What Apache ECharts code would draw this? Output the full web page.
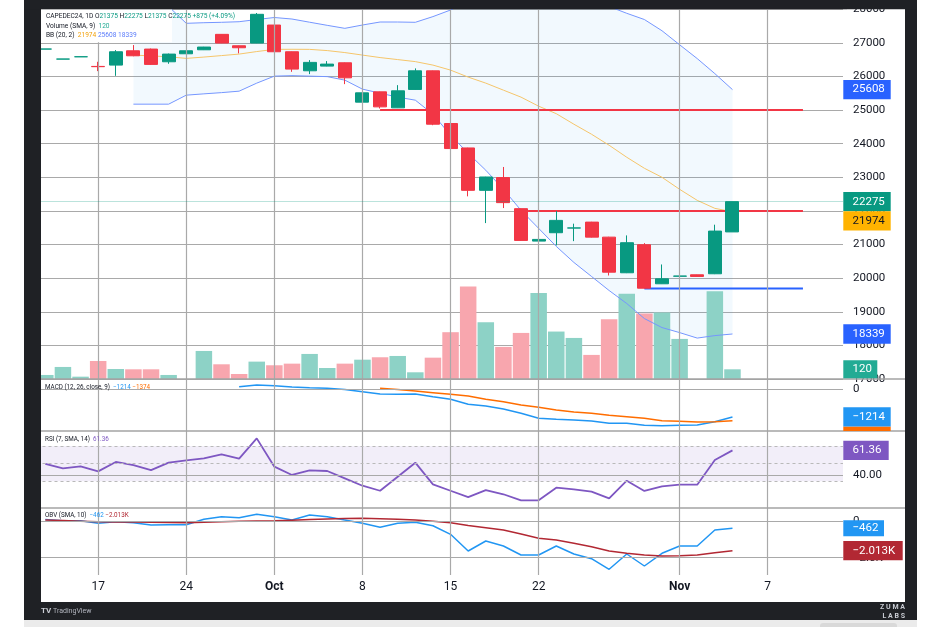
<!DOCTYPE html>
<html>
<head>
<meta charset="utf-8">
<script src="https://cdn.jsdelivr.net/npm/echarts@6/dist/echarts.min.js"></script>
<style>
html,body{margin:0;padding:0;background:#fff;}
#frame{position:absolute;left:24px;top:0;width:893px;height:620px;background:#1f2125;}
#strip{position:absolute;left:24px;top:620px;width:893px;height:7px;background:#ebebeb;}
#paper{position:absolute;left:41px;top:9px;width:864px;height:593px;background:#fff;}
#chart{position:absolute;left:0;top:0;width:940px;height:627px;}
</style>
</head>
<body>
<div id="frame"></div><div id="strip"></div><div id="paper"></div>
<div id="chart"></div>
<script>
// bars on the axis (40 traded days + empty space on the right)
var N = 46;
var tickIndex = [3, 8, 13, 18, 23, 28, 36, 41];
var tickText = ['17', '24', 'Oct', '8', '15', '22', 'Nov', '7'];

// candles
var open  = [26814,26516,26585,26298,26337,26763,26814,26436,26674,26793,27252,26912,26993,27529,26734,26168,26307,26406,25235,25542,25065,25613,26167,24600,23873,22612,22991,22067,21102,21351,21489,21667,21220,20160,20994,19832,20058,20100,20130,21375];
var close = [26815,26517,26586,26290,26734,26614,26358,26665,26763,26874,26993,26853,27848,26734,26218,26418,26367,25959,25512,25095,25572,26167,24579,23855,22612,23009,22246,21122,21152,21718,21495,21220,20177,21054,19701,19981,20062,20050,21400,22275];
var low   = [26814,26516,26585,26158,26018,26600,26340,26376,26660,26785,26990,26686,26990,26720,26138,26069,26300,25771,25225,25047,25060,25605,24549,22314,22433,21638,22085,21110,20377,20973,21101,21210,20079,20150,19690,19825,20050,20045,20120,21375];
var high  = [26815,26517,26586,26436,26784,26933,26830,26680,26775,26880,27260,26920,27887,27540,26740,26486,26456,26415,25520,25550,25741,26239,26175,24749,23880,23015,23307,22075,21160,21995,21620,21675,21230,21271,21042,20407,20428,20105,21590,22275];
var volume = [50,149,29,223,124,120,120,50,0,347,182,62,215,170,190,310,136,190,239,269,285,83,264,579,1145,703,397,570,1063,587,508,298,740,1054,810,822,496,0,1087,120];

// bollinger bands (20, 2)
var bbUpper = ['-','-','-','-','-',28700,28500,28080,27580,27598,27610,27628,27693,27753,27708,27613,27520,27431,27530,27619,27619,27610,27780,27976,28250,28450,28600,28700,28700,28650,28500,28300,28080,27878,27693,27359,26942,26531,26084,25608];
var bbBasis = ['-','-','-','-','-',26635,26611,26585,26537,26576,26620,26665,26740,26805,26808,26805,26769,26710,26635,26561,26501,26441,26337,26188,25980,25801,25592,25384,25115,24892,24579,24281,23953,23596,23268,23000,22642,22314,22076,21974];
var bbLower = ['-','-','-','-','-',25175,25175,25175,25443,25482,25518,25562,25801,26009,26024,26009,25994,25890,25622,25503,25384,25294,24877,24251,23715,23209,22642,22016,21480,20944,20467,20050,19632,19245,18798,18530,18380,18217,18291,18339];

// drawn levels
var redLevels = [25000, 22000];
var redFrom = [19, 27.4];
var blueLevel = 19690;
var blueFrom = 34;
var levelTo = 43;

// MACD (12, 26, close, 9)
var macdLine = ['-','-','-','-','-','-','-','-','-','-','-',100,174,143,87,56,30,-22,-117,-217,-230,-217,-334,-447,-664,-738,-868,-1055,-1272,-1315,-1345,-1389,-1489,-1489,-1575,-1593,-1575,-1562,-1419,-1214];
var macdSignal = ['-','-','-','-','-','-','-','-','-','-','-','-','-','-','-','-','-','-','-',30,-20,-90,-160,-230,-304,-447,-551,-694,-794,-911,-998,-1055,-1141,-1202,-1272,-1376,-1402,-1432,-1419,-1374];

// RSI (7, SMA, 14)
var rsiLine = [49.7,46.0,47.7,43.4,51.4,48.8,44.5,50.8,52.8,54.5,57.9,54.2,71.6,47.4,40.3,44.3,43.7,37.4,31.1,26.8,38.8,50.8,32.3,26.8,21.3,27.4,23.8,18.6,18.6,29.4,28.0,26.0,20.3,35.4,26.6,30.6,32.0,32.0,53.1,61.36];
var rsiBand = [35, 50, 65];

// OBV (SMA, 10)
var obvLine = [145,62,62,-118,-7,-76,-235,-215,-215,159,339,270,505,339,111,457,339,111,-118,-394,-118,-48,-284,-879,-2034,-1342,-1688,-2311,-2311,-1688,-2242,-2567,-3301,-2242,-3072,-2194,-1688,-1688,-581,-462];
var obvSma = [111,70,30,-7,-20,-35,-50,-65,-76,-40,-10,20,40,62,100,140,180,210,228,200,160,111,20,-76,-270,-420,-581,-860,-1156,-1273,-1500,-1737,-2034,-2194,-2311,-2380,-2360,-2311,-2152,-2013];

var font = 'Roboto, "Noto Sans", sans-serif';
var ink = '#131722';
var gridColor = '#a9a9a9';
var up = '#089981', down = '#f23645';

var cats = [];
for (var i = 0; i < N; i++) cats.push('d' + i);
function lab(i) { var k = tickIndex.indexOf(i); return k < 0 ? '' : tickText[k]; }
function minus(v) { return (v < 0 ? '\u2212' : '') + Math.abs(v); }
var last = open.length - 1;

var candles = open.map(function(o, i) { return [o, close[i], low[i], high[i]]; });
var volBars = volume.map(function(v, i) {
	return {value: v, itemStyle: {color: close[i] >= open[i] ? '#8dd2c6' : '#f8a6ae'}};
});
var bbDiff = bbUpper.map(function(u, i) { return u === '-' ? '-' : u - bbLower[i]; });
var vLines = tickIndex.map(function(i) { return {xAxis: i}; });

function hLine(v, txt, dashed) {
	var o = {yAxis: v, lineStyle: {color: dashed ? '#b9b9b9' : gridColor, width: dashed ? 1 : 1.2, type: dashed ? [3, 3] : 'solid'}};
	if (txt) o.label = {show: true, position: 'end', formatter: txt, distance: 6, color: ink, fontSize: 11.5, fontFamily: font};
	return o;
}
function helper(xi, yi, extra, area) {
	var s = {
		type: 'line', xAxisIndex: xi, yAxisIndex: yi, z: 0, silent: true, symbol: 'none',
		data: cats.map(function() { return '-'; }),
		markLine: {silent: true, symbol: ['none', 'none'], animation: false, label: {show: false},
			lineStyle: {color: gridColor, width: 1.2, type: 'solid'}, data: vLines.concat(extra)}
	};
	if (area) s.markArea = {silent: true, itemStyle: {color: 'rgba(126,87,194,0.1)'}, data: [[{yAxis: area[0]}, {yAxis: area[1]}]]};
	return s;
}
function plain(xi, yi, data, color, width, z) {
	return {type: 'line', xAxisIndex: xi, yAxisIndex: yi, data: data, symbol: 'none', silent: true, z: z || 2,
		lineStyle: {color: color, width: width}};
}
function catAxis(g, showLabels) {
	return {type: 'category', gridIndex: g, data: cats, boundaryGap: true, show: !!showLabels,
		axisLine: {show: false}, axisTick: {show: false}, splitLine: {show: false},
		axisLabel: {show: !!showLabels, interval: 0, margin: 6, color: ink, fontSize: 12, fontFamily: font,
			formatter: function(v, i) { var t = lab(i); return (t === 'Oct' || t === 'Nov') ? '{b|' + t + '}' : t; },
			rich: {b: {fontWeight: 'bold', fontSize: 12, color: ink, fontFamily: font}}}};
}
function hiddenY(g, mn, mx) {
	return {type: 'value', gridIndex: g, min: mn, max: mx, show: false, splitLine: {show: false}};
}

var G = {left: 36.5, right: 93, outerBoundsMode: 'none', containLabel: false};
function grid(top, h) { return Object.assign({top: top, height: h}, G); }

var levelSeries = redLevels.map(function(v, k) {
	return {type: 'line', xAxisIndex: 5, yAxisIndex: 0, symbol: 'none', silent: true, z: 2,
		data: [[redFrom[k], v], [levelTo, v]], lineStyle: {color: '#f23645', width: 2}};
});
levelSeries.push({type: 'line', xAxisIndex: 5, yAxisIndex: 0, symbol: 'none', silent: true, z: 2,
	data: [[blueFrom, blueLevel], [levelTo, blueLevel]], lineStyle: {color: '#2962ff', width: 2}});

var option = {
	backgroundColor: 'transparent',
	animation: false,
	grid: [grid(9.2, 369.8), grid(9.2, 369.8), grid(379, 52), grid(431, 77), grid(508, 67)],
	xAxis: [catAxis(0), catAxis(1), catAxis(2), catAxis(3), catAxis(4, true),
		{type: 'value', gridIndex: 0, min: -0.5, max: N - 0.5, show: false, splitLine: {show: false}}],
	yAxis: [
		{type: 'value', gridIndex: 0, position: 'right', min: 17000, max: 28000, interval: 1000,
			axisLine: {show: false}, axisTick: {show: false},
			axisLabel: {margin: 6, color: ink, fontSize: 11.5, fontFamily: font,
				formatter: function(v) { return String(v); }},
			splitLine: {lineStyle: {color: gridColor, width: 1.2}}},
		hiddenY(1, 0, 4575),
		hiddenY(2, -1823, 434),
		hiddenY(3, 12.05, 77.9),
		hiddenY(4, -3695, 941)
	],
	series: [
		helper(0, 0, []),
		{type: 'bar', xAxisIndex: 1, yAxisIndex: 1, data: volBars, barWidth: 16.5, z: 1, silent: true},
		{type: 'line', xAxisIndex: 0, yAxisIndex: 0, stack: 'bb', data: bbLower, symbol: 'none', silent: true, z: 1,
			lineStyle: {opacity: 0}},
		{type: 'line', xAxisIndex: 0, yAxisIndex: 0, stack: 'bb', data: bbDiff, symbol: 'none', silent: true, z: 1,
			lineStyle: {opacity: 0}, areaStyle: {color: 'rgba(33,150,243,0.06)', opacity: 1}},
		plain(0, 0, bbUpper, '#7596ff', 1),
		plain(0, 0, bbBasis, '#f5c56a', 1),
		plain(0, 0, bbLower, '#7596ff', 1)
	].concat(levelSeries).concat([
		{type: 'candlestick', xAxisIndex: 0, yAxisIndex: 0, data: candles, barWidth: 13.5, z: 3, silent: true,
			itemStyle: {color: up, color0: down, borderColor: up, borderColor0: down, borderWidth: 1},
			markLine: {silent: true, symbol: ['none', 'none'], animation: false, label: {show: false},
				lineStyle: {color: 'rgba(8,153,129,0.55)', type: 'dotted', width: 1},
				data: [{yAxis: close[last]}]}},
		helper(2, 2, [hLine(0, '0')]),
		plain(2, 2, macdLine, '#2196f3', 1.5),
		plain(2, 2, macdSignal, '#ff6d00', 1.5),
		helper(3, 3, [hLine(40, '40.00'), hLine(rsiBand[2], null, true), hLine(rsiBand[1], null, true), hLine(rsiBand[0], null, true)], [rsiBand[0], rsiBand[2]]),
		plain(3, 3, rsiLine, '#7e57c2', 1.8),
		helper(4, 4, [hLine(0, '0'), hLine(-2500, '\u22122.5K')]),
		plain(4, 4, obvLine, '#2196f3', 1.5),
		plain(4, 4, obvSma, '#b22833', 1.5)
	])
};

var chart = echarts.init(document.getElementById('chart'));
chart.setOption(option);

// static decoration: legends, pane separators, frame covers
var chg = close[last] - close[last - 1];
var pct = (chg / close[last - 1] * 100).toFixed(2);
function txt(x, y, text, rich, size, z, align) {
	return {type: 'text', x: x, y: y, z: z || 60,
		style: {text: text, rich: rich, font: size + 'px ' + font, fill: ink,
			align: align || 'left', verticalAlign: 'middle', textAlign: align || 'left', textVerticalAlign: 'middle'}};
}
function rs(size, o) {
	var r = {};
	for (var k in o) r[k] = {fill: o[k], color: o[k], fontSize: size, fontFamily: font};
	return r;
}
var legendRich7 = rs(6.6, {n: ink, v: up, t: '#22ab94', o: '#f2a20c', b: '#5b7cfa'});
var legendRich6 = rs(6.3, {n: ink, b: '#2196f3', o: '#ff6d00', p: '#7e57c2', r: '#b22833'});

var elems = [
	{type: 'rect', shape: {x: 41, y: 9.2, width: 131, height: 33}, style: {fill: '#fff'}, z: 50, silent: true},
	txt(46, 16, '{n|CAPEDEC24, 1D O}{v|' + open[last] + '}{n| H}{v|' + high[last] + '}{n| L}{v|' + low[last] +
		'}{n| C}{v|' + close[last] + '}{v| +' + chg + ' (+' + pct + '%)}', legendRich7, 6.6),
	txt(46, 26, '{n|Volume (SMA, 9)  }{t|' + volume[last] + '}', legendRich7, 6.6),
	txt(46, 35, '{n|BB (20, 2)  }{o|' + bbBasis[last] + '}{n| }{b|' + bbUpper[last] + '}{n| }{b|' + bbLower[last] + '}', legendRich7, 6.6),
	txt(45, 387.5, '{n|MACD (12, 26, close, 9)  }{b|' + minus(macdLine[last]) + '}{n| }{o|' + minus(macdSignal[last]) + '}', legendRich6, 6.3),
	txt(45, 439, '{n|RSI (7, SMA, 14)  }{p|' + rsiLine[last] + '}', legendRich6, 6.3),
	txt(45, 515.5, '{n|OBV (SMA, 10)  }{b|' + minus(obvLine[last]) + '}{n| }{r|' + minus(obvSma[last] / 1000) + 'K}', legendRich6, 6.3),
	{type: 'rect', shape: {x: 843, y: 9.2, width: 8, height: 566}, style: {fill: '#fff'}, z: 40, silent: true},
	{type: 'rect', shape: {x: 24, y: 0, width: 17, height: 620}, style: {fill: '#1f2125'}, z: 200, silent: true},
	{type: 'rect', shape: {x: 24, y: 0, width: 893, height: 9.2}, style: {fill: '#1f2125'}, z: 200, silent: true},
	txt(41, 611, '{l|TV} {t|TradingView}', {l: {fill: '#c9ccd3', color: '#c9ccd3', fontSize: 8, fontWeight: 'bold', fontFamily: font},
		t: {fill: '#b2b5be', color: '#b2b5be', fontSize: 7, fontFamily: font}}, 7, 210),
	txt(905, 607, 'Z U M A', null, 7, 210, 'right'),
	txt(905, 616, 'L A B S', null, 7, 210, 'right'),
	{type: 'rect', shape: {x: 820, y: 623, width: 77, height: 8, r: 3}, style: {fill: '#d9d9d9'}, z: 210, silent: true}
];
elems[elems.length - 2].style.fill = '#c9ccd3';
elems[elems.length - 3].style.fill = '#c9ccd3';
elems[elems.length - 2].style.font = 'bold 7px ' + font;
elems[elems.length - 3].style.font = 'bold 7px ' + font;

[379, 431, 508].forEach(function(y) {
	elems.push({type: 'line', shape: {x1: 41, y1: y, x2: 905, y2: y}, style: {stroke: '#a3a3a3', lineWidth: 1.5}, z: 45, silent: true});
});

// value tags on the right axis, placed through the axes' own scales
function yOf(a, v) { return chart.convertToPixel({yAxisIndex: a}, v); }
function tag(yc, w, h, bg, fg, text) {
	elems.push({type: 'rect', shape: {x: 843.3, y: yc - h / 2, width: w, height: h}, style: {fill: bg}, z: 100, silent: true});
	elems.push(txt(852.5, yc, text, null, 11.5, 101));
	elems[elems.length - 1].style.fill = fg;
}
var TH = 19.3;
tag(yOf(0, bbUpper[last]), 47.4, TH, '#2962ff', '#fff', String(bbUpper[last]));
var yClose = yOf(0, close[last]);
tag(yClose, 47.4, TH, up, '#fff', String(close[last]));
tag(Math.max(yOf(0, bbBasis[last]), yClose + TH), 47.4, TH, '#ffb300', ink, String(bbBasis[last]));
tag(yOf(0, bbLower[last]), 47.4, TH, '#2962ff', '#fff', String(bbLower[last]));
tag(Math.min(yOf(1, volume[last]), 379 - 9), 34, 18, '#22ab94', '#fff', String(volume[last]));
var yMacd = yOf(2, macdLine[last]);
elems.push({type: 'rect', shape: {x: 843.3, y: yMacd + TH / 2, width: 47.4, height: 431 - (yMacd + TH / 2)}, style: {fill: '#ff6d00'}, z: 99, silent: true});
tag(yMacd, 47.4, TH, '#2196f3', '#fff', minus(macdLine[last]));
tag(yOf(3, rsiLine[last]), 45.4, TH, '#7e57c2', '#fff', rsiLine[last].toFixed(2));
tag(yOf(4, obvLine[last]), 40.7, 16, '#2196f3', '#fff', minus(obvLine[last]));
tag(yOf(4, obvSma[last]), 59.4, TH, '#b22833', '#fff', minus(obvSma[last] / 1000) + 'K');

chart.setOption({graphic: {elements: elems}});
</script>
</body>
</html>
